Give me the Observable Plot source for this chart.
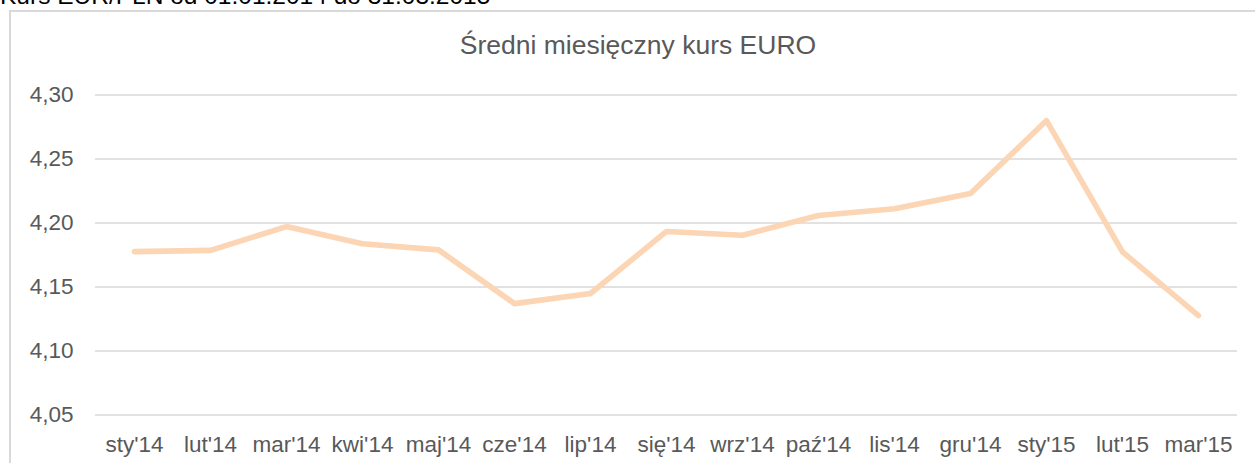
<!DOCTYPE html>
<html>
<head>
<meta charset="utf-8">
<script src="https://cdn.jsdelivr.net/npm/d3@7"></script>
<script src="https://cdn.jsdelivr.net/npm/@observablehq/plot@0.6"></script>
<style>
  html, body { margin: 0; padding: 0; background: #fff; overflow: hidden; width: 1255px; height: 463px; }
  #wrap { position: relative; width: 1255px; height: 463px; overflow: hidden; }
  #caption { position: absolute; left: 0; top: -16px; font-family: "Liberation Sans", Arial, sans-serif; font-size: 24.5px; line-height: 24px; color: #000; white-space: nowrap; }
  #frame { position: absolute; left: 9px; top: 10px; width: 1300px; height: 500px; border: 2px solid #d9d9d9; box-sizing: border-box; }
  #title { position: absolute; left: 0; width: 1276px; top: 31px; text-align: center; font-family: "Liberation Sans", Arial, sans-serif; font-size: 26.5px; line-height: 28px; color: #595959; white-space: nowrap; }
  #chart { position: absolute; left: 0; top: 0; }
</style>
</head>
<body>
<div id="wrap">
  <div id="caption">Kurs EUR/PLN od 01.01.2014 do 31.03.2015</div>
  <div id="frame"></div>
  <div id="title">Średni miesięczny kurs EURO</div>
  <div id="chart"></div>
</div>
<script>
const months = ["sty'14","lut'14","mar'14","kwi'14","maj'14","cze'14","lip'14","się'14","wrz'14","paź'14","lis'14","gru'14","sty'15","lut'15","mar'15"];
const rates = [4.1776, 4.1786, 4.1972, 4.1838, 4.1790, 4.1370, 4.1449, 4.1934, 4.1904, 4.2058, 4.2112, 4.2230, 4.2800, 4.1774, 4.1277];
const yTicks = [4.05, 4.10, 4.15, 4.20, 4.25, 4.30];

const data = months.map((m, i) => ({month: m, rate: rates[i]}));
const fmt = d => d.toFixed(2).replace(".", ",");

const chart = Plot.plot({
  width: 1255,
  height: 463,
  marginLeft: 95,
  marginRight: 18,
  marginTop: 94.5,
  marginBottom: 48.5,
  style: {background: "none", fontFamily: "'Liberation Sans', Arial, sans-serif", fontSize: "22.5px", color: "#595959", overflow: "visible"},
  x: {type: "point", domain: months, padding: 0.5, label: null},
  y: {domain: [4.05, 4.30], label: null},
  marks: [
    Plot.ruleY(yTicks, {stroke: "#d9d9d9", strokeWidth: 1.4}),
    Plot.axisY({ticks: yTicks, tickFormat: fmt, tickSize: 0, tickPadding: 22, label: null, fill: "#595959"}),
    Plot.axisX({tickSize: 0, tickPadding: 21, label: null, fill: "#595959"}),
    Plot.lineY(data, {x: "month", y: "rate", stroke: "#fcd5b4", strokeWidth: 5.6, strokeLinecap: "round", strokeLinejoin: "round"})
  ]
});
document.getElementById("chart").appendChild(chart);
</script>
</body>
</html>
